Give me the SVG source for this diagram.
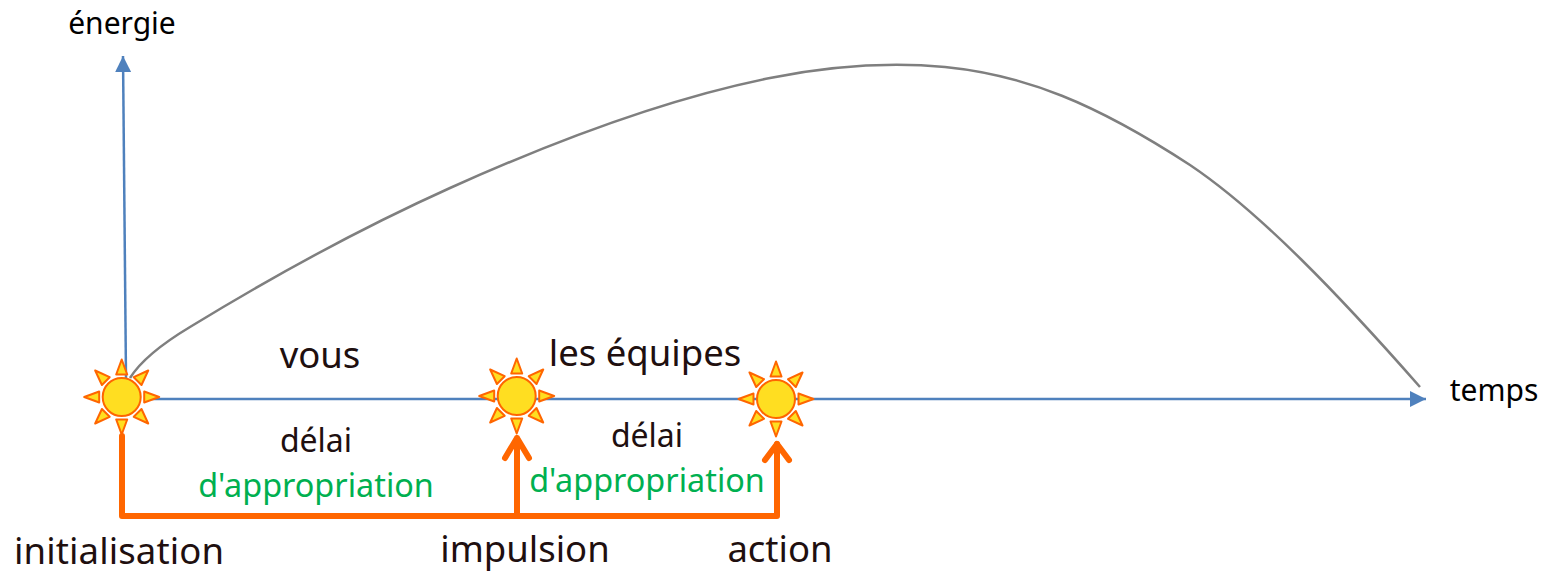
<svg xmlns="http://www.w3.org/2000/svg" width="1551" height="573" viewBox="0 0 1551 573">
<style>
text{font-family:"Noto Sans","Open Sans","DejaVu Sans",sans-serif;fill:#200f0f;text-anchor:middle}
.big{font-size:36.5px}
.mid{font-size:32px}
.sm{font-size:30px;fill:#000}
.grn{font-size:32.4px;fill:#00b050}
.axis{fill:none;stroke:#4f81bd;stroke-width:2.5}
.curve{fill:none;stroke:#7f7f7f;stroke-width:2.5}
.org{fill:none;stroke:#ff6600;stroke-width:6;stroke-linecap:round;stroke-linejoin:round}
.sun{fill:#ffde21;stroke:#ff6600;stroke-width:2;stroke-linejoin:round}
</style>
<defs>
<marker id="ah" markerUnits="userSpaceOnUse" markerWidth="16" markerHeight="16" refX="16" refY="8" orient="auto"><path d="M0 0L16 8L0 16Z" fill="#4f81bd"/></marker>
<g id="s">
<circle class="sun" r="19"/>
<g class="sun">
<path d="M-5.5-22.5L0-37.5L5.5-22.5Z"/>
<path d="M-5.5-22.5L0-37.5L5.5-22.5Z" transform="rotate(45)"/>
<path d="M-5.5-22.5L0-37.5L5.5-22.5Z" transform="rotate(90)"/>
<path d="M-5.5-22.5L0-37.5L5.5-22.5Z" transform="rotate(135)"/>
<path d="M-5.5-22.5L0-37.5L5.5-22.5Z" transform="rotate(180)"/>
<path d="M-5.5-22.5L0-37.5L5.5-22.5Z" transform="rotate(225)"/>
<path d="M-5.5-22.5L0-37.5L5.5-22.5Z" transform="rotate(270)"/>
<path d="M-5.5-22.5L0-37.5L5.5-22.5Z" transform="rotate(315)"/>
</g>
</g>
</defs>
<g id="connectors">
<path class="axis" d="M126 378L123 56" marker-end="url(#ah)"/>
<path class="axis" d="M150 399L1426 399" marker-end="url(#ah)"/>
<path class="curve" d="M130 378C140 362 160 345 190 327C280 272 370 224 450 188C570 134 680 96 770 78C830 66 890 62 945 67C1025 75 1095 103 1190 165C1260 212 1340 296 1420 387"/>
<path class="org" d="M122 436V516H777V444"/>
<path class="org" d="M517 516V438M505 458L517 438L529 458"/>
<path class="org" d="M765 460L777 444L789 460"/>
</g>
<g id="sun1"><use href="#s" x="121.7" y="397"/></g>
<g id="sun2"><use href="#s" x="516.7" y="396"/></g>
<g id="sun3"><use href="#s" x="776" y="399"/></g>
<g id="labels">
<text class="sm" x="122" y="34">énergie</text>
<text class="sm" x="1494" y="401">temps</text>
<text class="big" x="320" y="368">vous</text>
<text class="big" x="645" y="366">les équipes</text>
<text class="mid" x="316" y="452">délai</text>
<text class="mid" x="647" y="447">délai</text>
<text class="grn" x="316" y="497">d'appropriation</text>
<text class="grn" x="647" y="492">d'appropriation</text>
<text class="big" x="119" y="564" textLength="210" lengthAdjust="spacing">initialisation</text>
<text class="big" x="525" y="562">impulsion</text>
<text class="big" x="780" y="562">action</text>
</g>
</svg>
